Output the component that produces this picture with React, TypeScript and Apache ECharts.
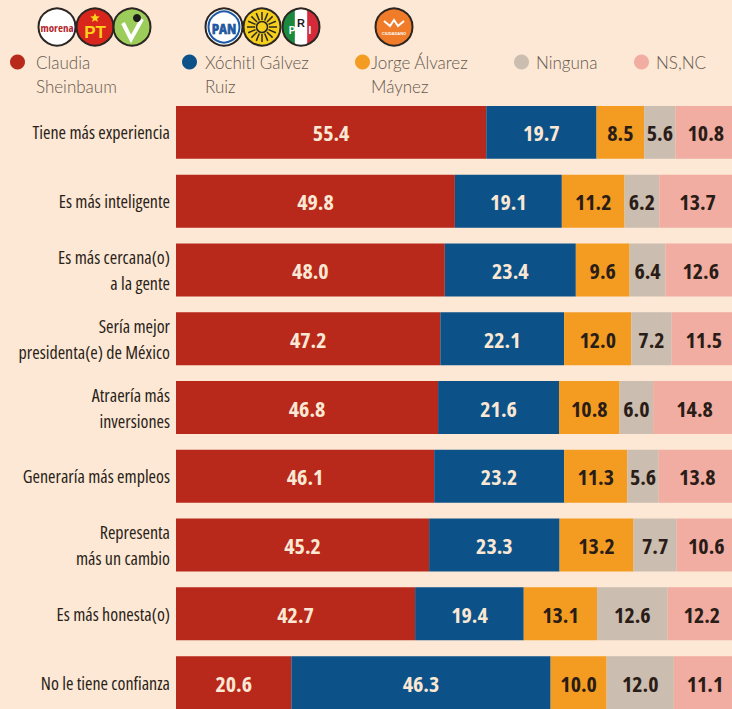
import React, { useEffect, useRef } from "react";
import * as echarts from "echarts";

const categories = [
  "Tiene más experiencia",
  "Es más inteligente",
  "Es más cercana(o)\na la gente",
  "Sería mejor\npresidenta(e) de México",
  "Atraería más\ninversiones",
  "Generaría más empleos",
  "Representa\nmás un cambio",
  "Es más honesta(o)",
  "No le tiene confianza",
];
const seriesNames = ["Claudia Sheinbaum", "Xóchitl Gálvez Ruiz", "Jorge Álvarez Máynez", "Ninguna", "NS,NC"];
const legendTexts = [" \nClaudia\nSheinbaum", " \nXóchitl Gálvez\nRuiz", " \nJorge Álvarez\nMáynez", "Ninguna", "NS,NC"];
const sheinbaum = [55.4, 49.8, 48.0, 47.2, 46.8, 46.1, 45.2, 42.7, 20.6];
const galvez = [19.7, 19.1, 23.4, 22.1, 21.6, 23.2, 23.3, 19.4, 46.3];
const maynez = [8.5, 11.2, 9.6, 12.0, 10.8, 11.3, 13.2, 13.1, 10.0];
const ninguna = [5.6, 6.2, 6.4, 7.2, 6.0, 5.6, 7.7, 12.6, 12.0];
const nsnc = [10.8, 13.7, 12.6, 11.5, 14.8, 13.8, 10.6, 12.2, 11.1];

const seriesData = [sheinbaum, galvez, maynez, ninguna, nsnc];
const colors = ["#b8291b", "#0c5289", "#f49c22", "#cbbdaf", "#f1ada1"];
const labelColors = ["#fbe8d4", "#fbe8d4", "#2a1c16", "#2a1c16", "#2a1c16"];
const BG = "#fce8d4";
const CONDENSED = "'Open Sans'; font-stretch: condensed";

function circlePts(cx: number, cy: number, r: number, a0: number, a1: number, n: number) {
  const pts: number[][] = [];
  for (let i = 0; i <= n; i++) {
    const a = a0 + ((a1 - a0) * i) / n;
    pts.push([cx + r * Math.cos(a), cy + r * Math.sin(a)]);
  }
  return pts;
}

function logos() {
  const els: any[] = [];
  const r = 18.5;
  const cy = 27;
  const stroke = { stroke: "#2b2622", lineWidth: 2 };
  // morena
  els.push({ type: "circle", shape: { cx: 57, cy, r }, style: { fill: "#fff", ...stroke } });
  els.push({ type: "text", x: 57, y: cy, style: { text: "morena", fill: "#b3282d", font: "bold condensed 11px 'Open Sans'", align: "center", verticalAlign: "middle" } });
  // PT
  els.push({ type: "circle", shape: { cx: 95, cy, r }, style: { fill: "#d8261c", ...stroke } });
  const star: number[][] = [];
  for (let i = 0; i < 10; i++) {
    const a = -Math.PI / 2 + (i * Math.PI) / 5;
    const rr = i % 2 === 0 ? 5 : 2.2;
    star.push([95 + rr * Math.cos(a), cy - 9 + rr * Math.sin(a)]);
  }
  els.push({ type: "polygon", shape: { points: star }, style: { fill: "#ffd21a" } });
  els.push({ type: "text", x: 95, y: cy + 5, style: { text: "PT", fill: "#ffd21a", font: "bold 17px 'Liberation Sans', sans-serif", align: "center", verticalAlign: "middle" } });
  // PVEM
  els.push({ type: "circle", shape: { cx: 132, cy, r }, style: { fill: "#9ccc5a", ...stroke } });
  els.push({ type: "polyline", shape: { points: [[123, cy - 4], [131, cy + 12], [142, cy - 8]] }, style: { stroke: "#fff", lineWidth: 4, fill: null } });
  els.push({ type: "circle", shape: { cx: 137, cy: cy - 9, r: 4 }, style: { fill: "#1c1c1c" } });
  // PAN
  els.push({ type: "circle", shape: { cx: 224, cy, r }, style: { fill: "#fff", ...stroke } });
  els.push({ type: "circle", shape: { cx: 224, cy, r: r - 3 }, style: { fill: "#fff", stroke: "#1b5aa6", lineWidth: 2 } });
  els.push({ type: "text", x: 224, y: cy + 1, style: { text: "PAN", fill: "#1b5aa6", font: "bold condensed 15px 'Open Sans'", align: "center", verticalAlign: "middle", stroke: "#0d2d5c", lineWidth: 0.5 } });
  // PRD
  els.push({ type: "circle", shape: { cx: 262, cy, r }, style: { fill: "#f5cf1c", ...stroke } });
  for (let i = 0; i < 16; i++) {
    const a = (i * Math.PI) / 8;
    els.push({ type: "line", shape: { x1: 262 + 7 * Math.cos(a), y1: cy + 7 * Math.sin(a), x2: 262 + 15 * Math.cos(a), y2: cy + 15 * Math.sin(a) }, style: { stroke: "#2b2622", lineWidth: 1.5 } });
  }
  els.push({ type: "circle", shape: { cx: 262, cy, r: 5.5 }, style: { fill: "#f5cf1c", stroke: "#2b2622", lineWidth: 1.5 } });
  // PRI
  els.push({ type: "circle", shape: { cx: 301, cy, r }, style: { fill: "#fff" } });
  const t = Math.acos(1 / 3);
  els.push({ type: "polygon", shape: { points: circlePts(301, cy, r, Math.PI - t, Math.PI + t, 20) }, style: { fill: "#1b8a3e" } });
  els.push({ type: "polygon", shape: { points: circlePts(301, cy, r, -t, t, 20) }, style: { fill: "#d42a3a" } });
  els.push({ type: "circle", shape: { cx: 301, cy, r }, style: { fill: null, ...stroke } });
  els.push({ type: "text", x: 301, y: cy - 4, style: { text: "R", fill: "#1c1c1c", font: "bold 11px sans-serif", align: "center", verticalAlign: "middle" } });
  els.push({ type: "text", x: 292, y: cy + 3, style: { text: "P", fill: "#fff", font: "bold 10px sans-serif", align: "center", verticalAlign: "middle" } });
  els.push({ type: "text", x: 310, y: cy + 3, style: { text: "I", fill: "#fff", font: "bold 10px sans-serif", align: "center", verticalAlign: "middle" } });
  // MC
  els.push({ type: "circle", shape: { cx: 394, cy, r }, style: { fill: "#f07c2a", ...stroke } });
  els.push({ type: "polyline", shape: { points: [[384, cy - 6], [390, cy - 1], [394, cy - 7], [398, cy - 1], [404, cy - 6]] }, style: { stroke: "#fff", lineWidth: 2, fill: null } });
  els.push({ type: "text", x: 394, y: cy + 6, style: { text: "CIUDADANO", fill: "#fff", font: "bold 4px sans-serif", align: "center", verticalAlign: "middle" } });
  return els;
}

const legendPos = [
  { left: 10, gap: 11, twoLine: true },
  { left: 182, gap: 8, twoLine: true },
  { left: 355, gap: 1, twoLine: true },
  { left: 514, gap: 7, twoLine: false },
  { left: 634, gap: 7, twoLine: false },
];

export default function App() {
  const ref = useRef<HTMLDivElement>(null);
  useEffect(() => {
    document.body.style.margin = "0";
    const chart = echarts.init(ref.current!, null, { renderer: "svg" });
    const legends = seriesNames.map((name, i) => ({
      data: [name],
      left: legendPos[i].left,
      top: legendPos[i].twoLine ? 26 : 50,
      icon: "circle",
      itemWidth: 15,
      itemHeight: 15,
      itemGap: 6,
      padding: 0,
      selectedMode: false,
      formatter: () => legendTexts[i],
      textStyle: {
        fontFamily: "Lato",
        fontWeight: 300,
        fontSize: 17,
        color: "#64574f",
        lineHeight: 24,
        padding: [0, 0, 0, legendPos[i].gap - 5],
      },
    }));
    chart.setOption({
      animation: false,
      backgroundColor: BG,
      legend: legends,
      graphic: logos(),
      grid: { left: 176, width: 560, top: 98, height: 619, outerBoundsMode: "none", containLabel: false },
      xAxis: { type: "value", min: 0, max: 100, show: false },
      yAxis: {
        type: "category",
        data: categories,
        inverse: true,
        axisLine: { show: false },
        axisTick: { show: false },
        axisLabel: {
          margin: 6,
          fontFamily: CONDENSED,
          fontSize: 18,
          color: "#2a1e19",
          lineHeight: 26,
          align: "right",
        },
      },
      series: seriesData.map((d, i) => ({
        name: seriesNames[i],
        type: "bar",
        stack: "total",
        data: d,
        barCategoryGap: "23%",
        itemStyle: { color: colors[i] },
        label: {
          show: true,
          position: "inside",
          formatter: (p: any) => Number(p.value).toFixed(1),
          fontFamily: CONDENSED,
          fontWeight: "bold",
          fontSize: 22,
          color: labelColors[i],
        },
      })),
    });
    return () => chart.dispose();
  }, []);
  return <div ref={ref} style={{ width: 732, height: 709 }} />;
}
